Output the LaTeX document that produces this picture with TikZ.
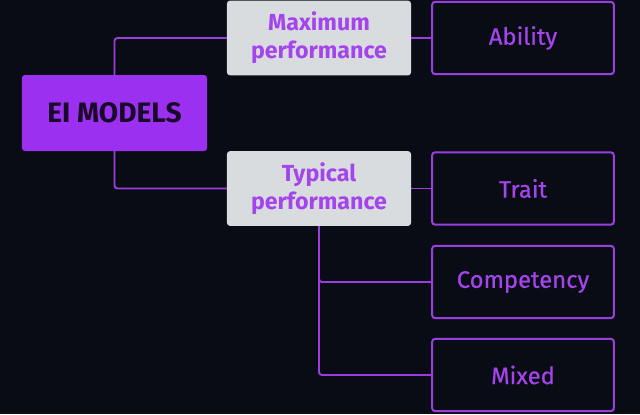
\documentclass[tikz,border=0pt]{standalone}
\usepackage{fontspec}
\setmainfont{Fira Sans}
\newfontfamily\leaffont[FakeBold=0.5]{Fira Sans}
\usepackage{tikz}
\usetikzlibrary{positioning}
\definecolor{bgdark}{HTML}{090C15}
\definecolor{eipurple}{HTML}{9B30F0}
\definecolor{txtpurple}{HTML}{A444EC}
\definecolor{linepurple}{HTML}{9A3EE0}
\definecolor{boxgray}{HTML}{D9DCDF}
\definecolor{eitext}{HTML}{1A0A2A}
\tikzset{
	root/.style = {
			fill            = eipurple,
			rounded corners = 2.5pt,
			minimum width   = 5.55cm,
			minimum height  = 2.28cm,
			text            = eitext,
			font            = \fontsize{24}{28}\selectfont\bfseries,
		},
	group/.style = {
			fill            = boxgray,
			rounded corners = 2.5pt,
			minimum width   = 5.52cm,
			minimum height  = 2.24cm,
			align           = center,
			text            = txtpurple,
			font            = \fontsize{19.8}{24}\selectfont\bfseries,
		},
	leaf/.style = {
			draw            = linepurple,
			line width      = 1.7pt,
			fill            = bgdark,
			rounded corners = 2.5pt,
			minimum width   = 5.45cm,
			minimum height  = 2.17cm,
			text            = txtpurple,
			font            = \fontsize{20.3}{24}\leaffont,
		},
	link/.style = {draw=linepurple, line width=1.6pt, rounded corners=2.5pt},
}

\begin{document}
\begin{tikzpicture}[x=0.03cm,y=-0.03cm]
	% background
	\fill[bgdark] (0,0) rectangle (640,414);

	\node[root] (EI) at (114.5,113) {EI MODELS};

	\node[group] (Maximum) at (319,38) {Maximum\\performance};
	\node[group] (Typical) at (319,188.5) {Typical\\performance};

	\node[leaf] (Ability) at (523,38) {Ability};
	\node[leaf] (Trait) at (523,188.5) {Trait};
	\node[leaf] (Competency) at (523,282) {Competency};
	\node[leaf] (Mixed) at (523,375) {Mixed};

	\draw[link] (EI.north) |- (Maximum.west);
	\draw[link] (EI.south) |- (Typical.west);
	\draw[link] (Maximum.east) -- (Ability.west);
	\draw[link] (Typical.east) -- (Trait.west);
	\draw[link] (Typical.south) |- (Competency.west);
	\draw[link] (Typical.south) |- (Mixed.west);
\end{tikzpicture}
\end{document}
